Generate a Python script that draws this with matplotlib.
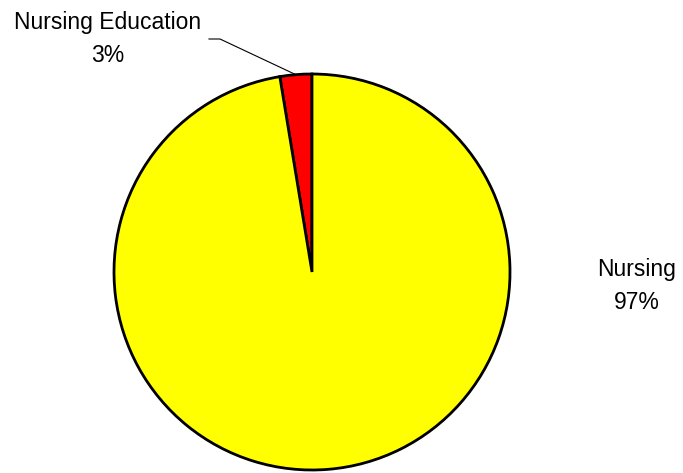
import numpy as np
import matplotlib.pyplot as plt

labels = ['Nursing Education', 'Nursing']
shares = [2.6, 97.4]
colors = ['#ff0000', '#ffff00']

plt.rcParams['font.family'] = ['Liberation Sans Narrow', 'Liberation Sans', 'DejaVu Sans']

W, H = 683, 473
fig = plt.figure(figsize=(W / 100, H / 100), dpi=100)
ax = fig.add_axes([0, 0, 1, 1])

cx, cy, r = 312, H - 272, 198
wedges, _ = ax.pie(shares, colors=colors, startangle=90, counterclock=True,
                   center=(cx, cy), radius=r, frame=True,
                   wedgeprops=dict(edgecolor='black', linewidth=2))
ax.set_xlim(0, W)
ax.set_ylim(0, H)
ax.axis('off')

pct = [round(s) for s in shares]

# small slice label with leader line
w = wedges[0]
mid = np.deg2rad((w.theta1 + w.theta2) / 2)
px, py = cx + r * np.cos(mid), cy + r * np.sin(mid)
ax.plot([209, 220, px], [H - 39, H - 39, py], color='black', lw=0.8)
ax.text(108, H - 39, f'{labels[0]}\n{pct[0]}%', ha='center', va='center',
        fontsize=16.5, linespacing=1.6)

ax.text(637, H - 286, f'{labels[1]}\n{pct[1]}%', ha='center', va='center',
        fontsize=16.5, linespacing=1.6)

fig.savefig('out.png', dpi=100)
